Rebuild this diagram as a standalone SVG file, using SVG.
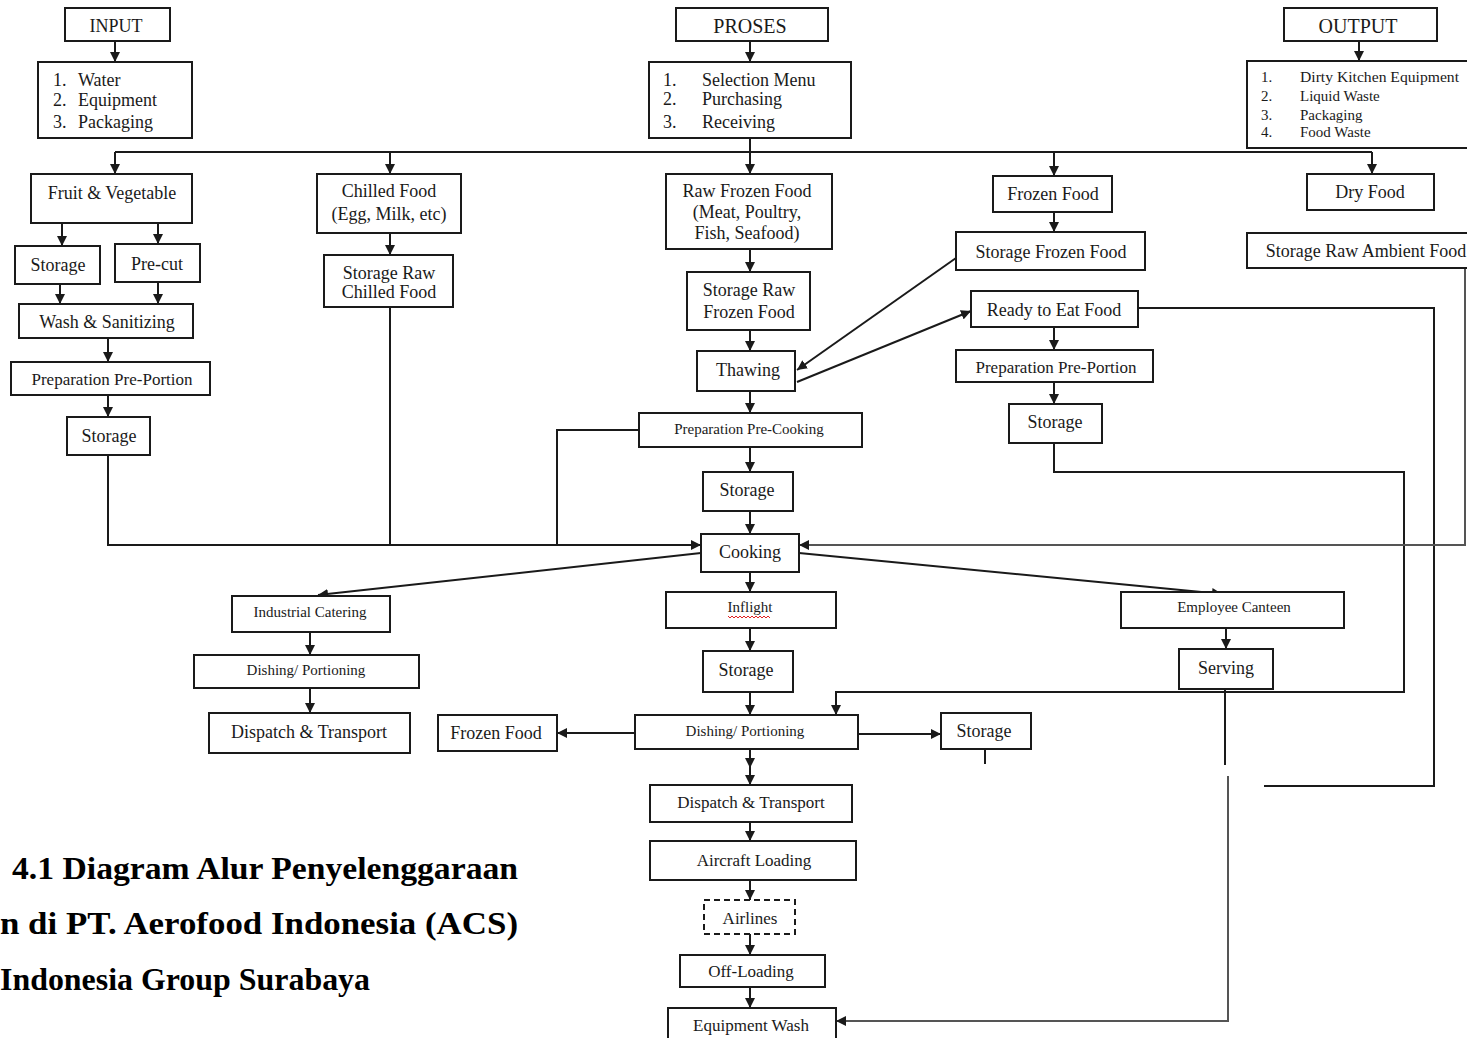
<svg xmlns="http://www.w3.org/2000/svg" width="1467" height="1038" viewBox="0 0 1467 1038">
<style>
.b{fill:#fff;stroke:#1a1a1a;stroke-width:2}
.d{fill:#fff;stroke:#1a1a1a;stroke-width:2;stroke-dasharray:6 4}
.t{font-family:"Liberation Serif","Times New Roman",serif;font-size:18px;fill:#1a1a1a;text-anchor:middle}
.s{font-size:15px}
.l{text-anchor:start}
.c{stroke:#1a1a1a;stroke-width:2;fill:none}
.g{stroke:#555}
.cap{font-family:"Liberation Serif","Times New Roman",serif;font-size:31px;font-weight:bold;fill:#000}
</style>
<defs>
<marker id="a" markerUnits="userSpaceOnUse" markerWidth="10" markerHeight="10" refX="10" refY="5" orient="auto"><path d="M0,0 L10,5 L0,10 z" fill="#1a1a1a"/></marker>
</defs>
<rect width="1467" height="1038" fill="#fff"/>
<g id="connectors">
<line class="c" x1="115" y1="41" x2="115" y2="62" marker-end="url(#a)"/>
<line class="c" x1="750" y1="41" x2="750" y2="62" marker-end="url(#a)"/>
<line class="c" x1="1359" y1="41" x2="1359" y2="61" marker-end="url(#a)"/>
<line class="c" x1="750" y1="138" x2="750" y2="152"/>
<line class="c" x1="115" y1="152" x2="1372" y2="152"/>
<line class="c" x1="115" y1="152" x2="115" y2="174" marker-end="url(#a)"/>
<line class="c" x1="390" y1="152" x2="390" y2="174" marker-end="url(#a)"/>
<line class="c" x1="750" y1="152" x2="750" y2="174" marker-end="url(#a)"/>
<line class="c" x1="1054" y1="152" x2="1054" y2="176" marker-end="url(#a)"/>
<line class="c" x1="1372" y1="152" x2="1372" y2="174" marker-end="url(#a)"/>
<line class="c" x1="62" y1="223" x2="62" y2="246" marker-end="url(#a)"/>
<line class="c" x1="158" y1="223" x2="158" y2="244" marker-end="url(#a)"/>
<line class="c" x1="60" y1="284" x2="60" y2="304" marker-end="url(#a)"/>
<line class="c" x1="158" y1="282" x2="158" y2="304" marker-end="url(#a)"/>
<line class="c" x1="108" y1="338" x2="108" y2="362" marker-end="url(#a)"/>
<line class="c" x1="108" y1="395" x2="108" y2="417" marker-end="url(#a)"/>
<polyline class="c" points="108,455 108,545 701,545" marker-end="url(#a)"/>
<line class="c" x1="390" y1="233" x2="390" y2="255" marker-end="url(#a)"/>
<line class="c" x1="390" y1="307" x2="390" y2="545"/>
<polyline class="c" points="639,430 557,430 557,545"/>
<line class="c" x1="750" y1="249" x2="750" y2="272" marker-end="url(#a)"/>
<line class="c" x1="750" y1="330" x2="750" y2="351" marker-end="url(#a)"/>
<line class="c" x1="956" y1="258" x2="797" y2="370" marker-end="url(#a)"/>
<line class="c" x1="797" y1="382" x2="971" y2="311" marker-end="url(#a)"/>
<line class="c" x1="1054" y1="212" x2="1054" y2="232" marker-end="url(#a)"/>
<line class="c" x1="1054" y1="327" x2="1054" y2="350" marker-end="url(#a)"/>
<line class="c" x1="1054" y1="382" x2="1054" y2="404" marker-end="url(#a)"/>
<line class="c" x1="750" y1="391" x2="750" y2="413" marker-end="url(#a)"/>
<line class="c" x1="750" y1="447" x2="750" y2="472" marker-end="url(#a)"/>
<line class="c" x1="750" y1="511" x2="750" y2="534" marker-end="url(#a)"/>
<polyline class="c" points="1054,443 1054,472 1404,472 1404,692 836,692 836,715" marker-end="url(#a)"/>
<polyline class="c" points="1138,308 1434,308 1434,786 1264,786"/>
<polyline class="c g" points="1465,268 1465,545 799,545" marker-end="url(#a)"/>
<line class="c" x1="701" y1="553" x2="318" y2="595" marker-end="url(#a)"/>
<line class="c" x1="799" y1="553" x2="1222" y2="594" marker-end="url(#a)"/>
<line class="c" x1="750" y1="572" x2="750" y2="592" marker-end="url(#a)"/>
<line class="c" x1="750" y1="628" x2="750" y2="651" marker-end="url(#a)"/>
<line class="c" x1="750" y1="692" x2="750" y2="715" marker-end="url(#a)"/>
<line class="c" x1="310" y1="632" x2="310" y2="655" marker-end="url(#a)"/>
<line class="c" x1="310" y1="688" x2="310" y2="713" marker-end="url(#a)"/>
<line class="c" x1="1226" y1="628" x2="1226" y2="649" marker-end="url(#a)"/>
<line class="c" x1="1225" y1="689" x2="1225" y2="765"/>
<polyline class="c g" points="1228,776 1228,1021 836,1021" marker-end="url(#a)"/>
<line class="c" x1="635" y1="733" x2="557" y2="733" marker-end="url(#a)"/>
<line class="c" x1="858" y1="734" x2="941" y2="734" marker-end="url(#a)"/>
<line class="c" x1="985" y1="749" x2="985" y2="764"/>
<line class="c" x1="750" y1="749" x2="750" y2="768" marker-end="url(#a)"/>
<line class="c" x1="750" y1="766" x2="750" y2="785" marker-end="url(#a)"/>
<line class="c" x1="750" y1="822" x2="750" y2="841" marker-end="url(#a)"/>
<line class="c" x1="750" y1="880" x2="750" y2="900" marker-end="url(#a)"/>
<line class="c" x1="750" y1="934" x2="750" y2="955" marker-end="url(#a)"/>
<line class="c" x1="750" y1="987" x2="750" y2="1008" marker-end="url(#a)"/>
</g>
<g id="input"><rect class="b" x="65" y="8" width="105" height="33"/><text class="t" x="116" y="32">INPUT</text></g>
<g id="input-list"><rect class="b" x="38" y="62" width="154" height="76"/>
<text class="t l" x="53" y="86">1.</text><text class="t l" x="78" y="86">Water</text>
<text class="t l" x="53" y="106">2.</text><text class="t l" x="78" y="106">Equipment</text>
<text class="t l" x="53" y="128">3.</text><text class="t l" x="78" y="128">Packaging</text></g>
<g id="proses"><rect class="b" x="676" y="8" width="152" height="33"/><text class="t" x="750" y="33" style="font-size:20px">PROSES</text></g>
<g id="proses-list"><rect class="b" x="649" y="62" width="202" height="76"/>
<text class="t l" x="663" y="86">1.</text><text class="t l" x="702" y="86">Selection Menu</text>
<text class="t l" x="663" y="105">2.</text><text class="t l" x="702" y="105">Purchasing</text>
<text class="t l" x="663" y="128">3.</text><text class="t l" x="702" y="128">Receiving</text></g>
<g id="output"><rect class="b" x="1284" y="8" width="153" height="33"/><text class="t" x="1358" y="33" style="font-size:20px">OUTPUT</text></g>
<g id="output-list"><rect class="b" x="1247" y="61" width="222" height="87"/>
<text class="t l s" x="1261" y="82">1.</text><text class="t l s" x="1300" y="82" textLength="159" lengthAdjust="spacingAndGlyphs">Dirty Kitchen Equipment</text>
<text class="t l s" x="1261" y="101">2.</text><text class="t l s" x="1300" y="101">Liquid Waste</text>
<text class="t l s" x="1261" y="120">3.</text><text class="t l s" x="1300" y="120">Packaging</text>
<text class="t l s" x="1261" y="137">4.</text><text class="t l s" x="1300" y="137">Food Waste</text></g>
<g id="fruit"><rect class="b" x="31" y="174" width="161" height="49"/><text class="t" x="112" y="199">Fruit &amp; Vegetable</text></g>
<g id="chilled"><rect class="b" x="317" y="174" width="144" height="59"/><text class="t" x="389" y="197">Chilled Food</text><text class="t" x="389" y="220">(Egg, Milk, etc)</text></g>
<g id="rawfrozen"><rect class="b" x="666" y="174" width="166" height="75"/><text class="t" x="747" y="197">Raw Frozen Food</text><text class="t" x="747" y="218">(Meat, Poultry,</text><text class="t" x="747" y="239">Fish, Seafood)</text></g>
<g id="frozen"><rect class="b" x="993" y="176" width="119" height="36"/><text class="t" x="1053" y="200">Frozen Food</text></g>
<g id="dry"><rect class="b" x="1307" y="174" width="127" height="36"/><text class="t" x="1370" y="198">Dry Food</text></g>
<g id="storage1"><rect class="b" x="15" y="246" width="85" height="38"/><text class="t" x="58" y="271">Storage</text></g>
<g id="precut"><rect class="b" x="115" y="244" width="85" height="38"/><text class="t" x="157" y="270">Pre-cut</text></g>
<g id="storage-chilled"><rect class="b" x="324" y="255" width="129" height="52"/><text class="t" x="389" y="279">Storage Raw</text><text class="t" x="389" y="298">Chilled Food</text></g>
<g id="storage-rawfrozen"><rect class="b" x="687" y="272" width="123" height="58"/><text class="t" x="749" y="296">Storage Raw</text><text class="t" x="749" y="318">Frozen Food</text></g>
<g id="storage-frozen"><rect class="b" x="956" y="232" width="189" height="38"/><text class="t" x="1051" y="258">Storage Frozen Food</text></g>
<g id="storage-ambient"><rect class="b" x="1247" y="233" width="222" height="35"/><text class="t" x="1366" y="257">Storage Raw Ambient Food</text></g>
<g id="wash"><rect class="b" x="19" y="304" width="174" height="34"/><text class="t" x="107" y="328">Wash &amp; Sanitizing</text></g>
<g id="ready"><rect class="b" x="971" y="291" width="167" height="36"/><text class="t" x="1054" y="316">Ready to Eat Food</text></g>
<g id="prep-portion1"><rect class="b" x="11" y="362" width="199" height="33"/><text class="t" x="112" y="385" style="font-size:17px">Preparation Pre-Portion</text></g>
<g id="thawing"><rect class="b" x="697" y="351" width="98" height="40"/><text class="t" x="748" y="376">Thawing</text></g>
<g id="prep-portion2"><rect class="b" x="956" y="350" width="197" height="32"/><text class="t" x="1056" y="373" style="font-size:17px">Preparation Pre-Portion</text></g>
<g id="storage2"><rect class="b" x="67" y="417" width="83" height="38"/><text class="t" x="109" y="442">Storage</text></g>
<g id="prep-cooking"><rect class="b" x="639" y="413" width="223" height="34"/><text class="t s" x="749" y="434">Preparation Pre-Cooking</text></g>
<g id="storage3"><rect class="b" x="1009" y="404" width="93" height="39"/><text class="t" x="1055" y="428">Storage</text></g>
<g id="storage4"><rect class="b" x="703" y="472" width="90" height="39"/><text class="t" x="747" y="496">Storage</text></g>
<g id="cooking"><rect class="b" x="701" y="534" width="98" height="38"/><text class="t" x="750" y="558">Cooking</text></g>
<g id="industrial"><rect class="b" x="232" y="596" width="158" height="36"/><text class="t s" x="310" y="617">Industrial Catering</text></g>
<g id="inflight"><rect class="b" x="666" y="592" width="170" height="36"/><text class="t s" x="750" y="612">Inflight</text><path d="M728,616 l2,2 l2,-2 l2,2 l2,-2 l2,2 l2,-2 l2,2 l2,-2 l2,2 l2,-2 l2,2 l2,-2 l2,2 l2,-2 l2,2 l2,-2 l2,2 l2,-2 l2,2 l2,-2 l2,2" fill="none" stroke="#e02020" stroke-width="1"/></g>
<g id="canteen"><rect class="b" x="1121" y="592" width="223" height="36"/><text class="t s" x="1234" y="612">Employee Canteen</text></g>
<g id="dishing1"><rect class="b" x="194" y="655" width="225" height="33"/><text class="t s" x="306" y="675">Dishing/ Portioning</text></g>
<g id="storage5"><rect class="b" x="703" y="651" width="90" height="41"/><text class="t" x="746" y="676">Storage</text></g>
<g id="serving"><rect class="b" x="1179" y="649" width="94" height="40"/><text class="t" x="1226" y="674">Serving</text></g>
<g id="dispatch1"><rect class="b" x="209" y="713" width="201" height="40"/><text class="t" x="309" y="738">Dispatch &amp; Transport</text></g>
<g id="frozen2"><rect class="b" x="438" y="715" width="119" height="36"/><text class="t" x="496" y="739">Frozen Food</text></g>
<g id="dishing2"><rect class="b" x="635" y="715" width="223" height="34"/><text class="t s" x="745" y="736">Dishing/ Portioning</text></g>
<g id="storage6"><rect class="b" x="941" y="713" width="90" height="36"/><text class="t" x="984" y="737">Storage</text></g>
<g id="dispatch2"><rect class="b" x="650" y="785" width="202" height="37"/><text class="t" x="751" y="808" style="font-size:17px">Dispatch &amp; Transport</text></g>
<g id="aircraft"><rect class="b" x="650" y="841" width="206" height="39"/><text class="t" x="754" y="866" style="font-size:17px">Aircraft Loading</text></g>
<g id="airlines"><rect class="d" x="704" y="900" width="91" height="34"/><text class="t" x="750" y="924" style="font-size:17px">Airlines</text></g>
<g id="offloading"><rect class="b" x="680" y="955" width="145" height="32"/><text class="t" x="751" y="977" style="font-size:17px">Off-Loading</text></g>
<g id="eqwash"><rect class="b" x="668" y="1008" width="168" height="34"/><text class="t" x="751" y="1031" style="font-size:17px">Equipment Wash</text></g>
<g id="caption">
<text class="cap" x="12" y="879" textLength="506" lengthAdjust="spacingAndGlyphs">4.1  Diagram  Alur  Penyelenggaraan</text>
<text class="cap" x="0" y="934" textLength="518" lengthAdjust="spacingAndGlyphs">n  di  PT.  Aerofood  Indonesia  (ACS)</text>
<text class="cap" x="0" y="990" textLength="370" lengthAdjust="spacingAndGlyphs">Indonesia Group Surabaya</text>
</g>
</svg>
